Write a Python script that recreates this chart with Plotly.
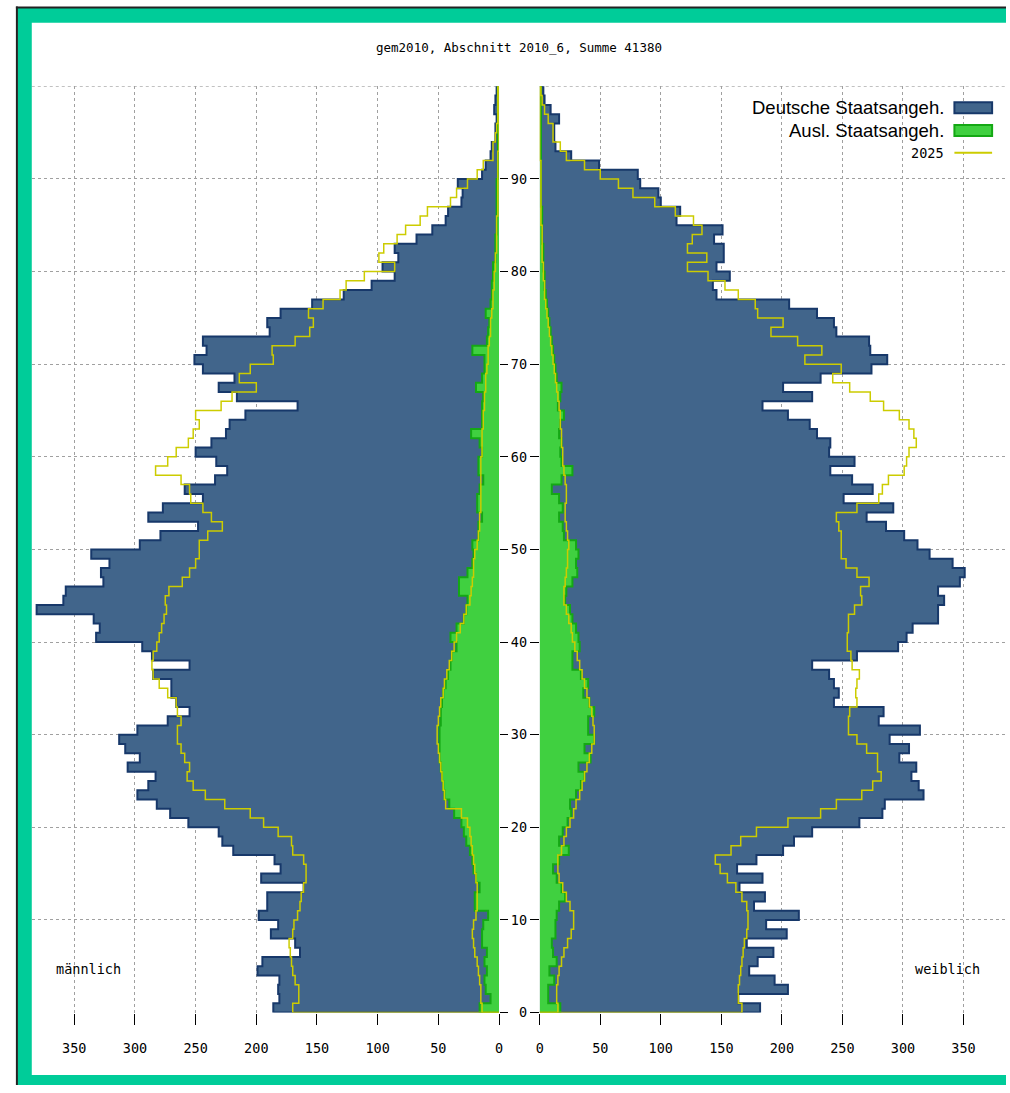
import plotly.graph_objects as go

# Altersjahre 0..99 (je ein Band von a bis a+1)
ALTER = list(range(100))

# Männer: Gesamt (Deutsche + Ausländer), davon Ausländer, Prognose 2025 gesamt / Ausländer
m_gesamt = [186, 181, 182, 181, 199, 195, 164, 168, 188, 182,
            198, 191, 191, 161, 196, 180, 185, 219, 228, 231,
            256, 271, 282, 298, 289, 283, 306, 296, 308, 313,
            298, 273, 255, 266, 270, 270, 285, 255, 286, 294,
            332, 329, 334, 381, 359, 357, 326, 328, 321, 336,
            296, 279, 248, 289, 277, 244, 259, 234, 224, 233,
            250, 237, 225, 222, 209, 166, 216, 231, 218, 244,
            251, 241, 244, 189, 191, 180, 154, 128, 105, 86,
            96, 83, 86, 68, 55, 44, 42, 31, 30, 34,
            14, 11, 7, 6, 3, 3, 2, 4, 3, 2]
m_ausl = [16, 7, 11, 12, 10, 12, 10, 14, 14, 13,
          9, 20, 20, 16, 19, 21, 22, 24, 27, 29,
          31, 37, 41, 45, 46, 47, 48, 49, 49, 49,
          49, 48, 48, 47, 46, 44, 42, 40, 39, 35,
          40, 35, 29, 27, 26, 33, 33, 26, 22, 21,
          22, 17, 17, 14, 18, 18, 16, 13, 17, 17,
          14, 16, 23, 14, 14, 14, 13, 19, 14, 12,
          12, 22, 10, 9, 8, 11, 7, 6, 6, 5,
          5, 3, 3, 3, 2, 2, 2, 2, 2, 2,
          1, 1, 1, 1, 1, 1, 1, 1, 1, 1]
m_2025 = [170, 165, 165, 168, 170, 171, 172, 173, 170, 169,
          166, 164, 163, 161, 159, 159, 161, 170, 171, 182,
          194, 205, 226, 242, 252, 257, 255, 259, 262, 265,
          265, 262, 265, 266, 273, 280, 285, 286, 285, 282,
          280, 278, 276, 274, 275, 272, 261, 255, 250, 247,
          247, 240, 228, 237, 244, 254, 255, 262, 283, 273,
          266, 256, 252, 247, 250, 229, 220, 200, 214, 205,
          186, 187, 168, 156, 153, 157, 145, 131, 126, 111,
          86, 99, 95, 84, 77, 65, 59, 40, 35, 26,
          18, 13, 5, 5, 3, 2, 1, 1, 1, 1]
m_2025_ausl = [14, 15, 15, 16, 17, 18, 20, 21, 22, 21,
               19, 18, 18, 18, 19, 20, 21, 22, 23, 24,
               26, 31, 44, 45, 46, 47, 48, 49, 50, 51,
               51, 50, 49, 48, 46, 45, 43, 41, 39, 37,
               35, 32, 29, 27, 24, 23, 22, 21, 21, 20,
               18, 17, 16, 16, 15, 15, 15, 15, 15, 15,
               14, 14, 14, 13, 13, 12, 12, 11, 11, 10,
               9, 9, 8, 7, 7, 6, 5, 5, 4, 4,
               3, 3, 2, 2, 2, 2, 1, 1, 1, 1,
               1, 1, 1, 0, 0, 0, 0, 0, 0, 0]

# Frauen
w_gesamt = [182, 164, 205, 194, 173, 180, 193, 171, 204, 187,
            214, 177, 186, 165, 184, 163, 179, 201, 210, 225,
            264, 283, 285, 317, 313, 307, 311, 297, 305, 289,
            314, 280, 284, 243, 247, 243, 239, 225, 262, 296,
            303, 308, 329, 329, 334, 329, 347, 351, 341, 322,
            312, 301, 286, 270, 292, 251, 275, 258, 240, 260,
            239, 240, 229, 223, 205, 184, 225, 201, 232, 274,
            287, 273, 272, 245, 243, 229, 206, 146, 143, 157,
            146, 152, 152, 144, 151, 113, 116, 100, 98, 83,
            81, 49, 26, 13, 12, 12, 16, 9, 4, 3]
w_ausl = [17, 7, 7, 12, 8, 14, 11, 10, 13, 13,
          14, 16, 21, 18, 14, 11, 16, 24, 16, 19,
          23, 26, 25, 30, 34, 37, 32, 42, 37, 45,
          40, 40, 45, 41, 36, 40, 34, 27, 27, 33,
          32, 30, 27, 25, 21, 22, 27, 31, 30, 32,
          30, 20, 19, 16, 19, 16, 10, 18, 27, 18,
          17, 18, 16, 17, 20, 15, 17, 18, 14, 13,
          12, 11, 10, 9, 8, 7, 6, 5, 4, 4,
          3, 3, 3, 2, 2, 2, 2, 1, 1, 1,
          1, 1, 1, 1, 1, 1, 1, 1, 1, 1]
w_2025 = [167, 164, 164, 165, 166, 167, 168, 169, 171, 172,
          172, 171, 167, 162, 155, 149, 145, 158, 166, 179,
          205, 232, 245, 266, 275, 282, 279, 279, 270, 262,
          255, 255, 256, 262, 261, 262, 264, 258, 257, 254,
          254, 255, 255, 260, 266, 265, 272, 262, 253, 249,
          249, 249, 247, 245, 262, 280, 283, 288, 301, 303,
          305, 311, 309, 305, 297, 284, 273, 256, 242, 249,
          219, 233, 213, 191, 201, 180, 178, 164, 153, 139,
          122, 138, 122, 126, 134, 127, 112, 95, 77, 65,
          50, 37, 22, 17, 11, 11, 7, 4, 2, 1]
w_2025_ausl = [15, 14, 14, 15, 16, 18, 20, 23, 26, 28,
               28, 25, 22, 19, 16, 15, 15, 18, 20, 22,
               25, 28, 30, 33, 35, 37, 39, 41, 43, 45,
               45, 44, 43, 41, 39, 37, 35, 33, 31, 29,
               27, 26, 24, 22, 20, 20, 21, 22, 23, 23,
               24, 23, 22, 21, 21, 22, 22, 21, 20, 19,
               19, 18, 18, 17, 17, 16, 15, 14, 13, 12,
               11, 10, 9, 8, 7, 6, 5, 4, 4, 3,
               3, 2, 2, 2, 2, 1, 1, 1, 1, 1,
               1, 1, 0, 0, 0, 0, 0, 0, 0, 0]

X_TICKS = [0, 50, 100, 150, 200, 250, 300, 350]
Y_TICKS = [0, 10, 20, 30, 40, 50, 60, 70, 80, 90]
TITEL = "gem2010, Abschnitt 2010_6, Summe 41380"
LEGENDE = ["Deutsche Staatsangeh.", "Ausl. Staatsangeh.", "2025"]

# Farben
BLAU = "#41658b"
BLAU_RAND = "#17386a"
GRUEN = "#40d040"
GRUEN_RAND = "#14a814"
GELB = "#cccc00"
RAHMEN = "#00cc99"
GITTER = "#a0a0a0"

W, H = 1010, 1093
MONO = "DejaVu Sans Mono, Liberation Mono, monospace"
ARIAL = "Liberation Sans, Arial, sans-serif"
GR = 12.5    # Schriftgröße Titel
GR_T = 13.5  # Schriftgröße Achsenbeschriftung


def fx(px):
    return px / W


def fy(py):
    return 1 - py / H


def stufen(werte):
    """Treppenkontur: vom Nullpunkt über alle Altersjahre zurück auf 0."""
    x = [0] + list(werte) + [0]
    y = [0] + ALTER + [len(werte)]
    return x, y


def flaeche(werte, fill, rand, xa, ya):
    x, y = stufen(werte)
    return go.Scatter(
        x=x, y=y, xaxis=xa, yaxis=ya,
        mode="lines", line=dict(shape="vh", color=rand, width=2),
        fill="toself", fillcolor=fill,
        hoverinfo="skip", showlegend=False,
    )


def linie(werte, xa, ya):
    x, y = stufen(werte)
    return go.Scatter(
        x=x, y=y, xaxis=xa, yaxis=ya,
        mode="lines", line=dict(shape="vh", color=GELB, width=1.5),
        hoverinfo="skip", showlegend=False,
    )


def text(x, y, s, font, xanchor="center"):
    fig.add_annotation(x=fx(x), y=fy(y), xref="paper", yref="paper", text=s,
                       xanchor=xanchor, yanchor="middle", showarrow=False, font=font)


fig = go.Figure()
for gesamt, ausl, prog, prog_ausl, xa, ya in [
    (m_gesamt, m_ausl, m_2025, m_2025_ausl, "x", "y"),
    (w_gesamt, w_ausl, w_2025, w_2025_ausl, "x2", "y2"),
]:
    fig.add_trace(flaeche(gesamt, BLAU, BLAU_RAND, xa, ya))
    fig.add_trace(flaeche(ausl, GRUEN, GRUEN_RAND, xa, ya))
    fig.add_trace(linie(prog, xa, ya))
    fig.add_trace(linie(prog_ausl, xa, ya))

achse_x = dict(
    tickvals=X_TICKS, ticks="outside", ticklen=11, tickcolor="black",
    tickfont=dict(family=MONO, size=GR_T, color="black"),
    ticklabelstandoff=12,
    showgrid=True, gridcolor=GITTER, griddash="dot", gridwidth=1,
    zeroline=False, showline=False, fixedrange=True,
)
achse_y = dict(
    range=[0, 100], tickvals=Y_TICKS, ticks="outside", ticklen=9, tickcolor="black",
    tickfont=dict(family=MONO, size=GR_T, color="black"),
    showgrid=True, gridcolor=GITTER, griddash="dot", gridwidth=1,
    zeroline=False, showline=False, fixedrange=True,
    domain=[fy(1020), fy(87)],
)

fig.update_layout(
    width=W, height=H, autosize=False,
    margin=dict(l=0, r=0, t=0, b=0),
    paper_bgcolor="white", plot_bgcolor="white",
    showlegend=False,
    xaxis=dict(achse_x, domain=[fx(28), fx(499)], range=[385, 0], anchor="y"),
    yaxis=dict(achse_y, anchor="x", side="right", showticklabels=False, ticklen=8),
    xaxis2=dict(achse_x, domain=[fx(540), 1.0], range=[0, 385.1], anchor="y2"),
    yaxis2=dict(achse_y, anchor="x2", side="left"),
)

# Gitterlinie bei 100
for xr, yr in [("x domain", "y"), ("x2 domain", "y2")]:
    fig.add_shape(type="line", xref=xr, yref=yr, x0=0, x1=1, y0=100, y1=100,
                  line=dict(color=GITTER, width=1, dash="dot"), layer="below")

# Titel und Beschriftungen
mono = dict(family=MONO, size=GR, color="black")
mono_t = dict(family=MONO, size=GR_T, color="black")
text(519, 48, TITEL, mono)
text(85, 976, "männlich", mono_t)
text(951, 976, "weiblich", mono_t)

# Legende (rechtsbündig, Symbol rechts vom Text)
zeilen = [108.5, 131.5, 154]
for i, (txt, zy) in enumerate(zip(LEGENDE, zeilen)):
    font = dict(family=ARIAL, size=18.5, color="black") if i < 2 else mono_t
    text(950, zy, txt, font, xanchor="right")
fig.add_shape(type="rect", xref="paper", yref="paper", x0=fx(958), x1=fx(996),
              y0=fy(103), y1=fy(114), fillcolor=BLAU, line=dict(color=BLAU_RAND, width=2))
fig.add_shape(type="rect", xref="paper", yref="paper", x0=fx(958), x1=fx(996),
              y0=fy(126), y1=fy(137), fillcolor=GRUEN, line=dict(color=GRUEN_RAND, width=2))
fig.add_shape(type="line", xref="paper", yref="paper", x0=fx(958), x1=fx(996),
              y0=fy(154), y1=fy(154), line=dict(color=GELB, width=2))

# Rahmen
fig.add_shape(type="rect", xref="paper", yref="paper", x0=fx(13.5), x1=fx(28),
              y0=0, y1=fy(8), fillcolor=RAHMEN, line_width=0)
fig.add_shape(type="rect", xref="paper", yref="paper", x0=fx(13.5), x1=1,
              y0=fy(23), y1=fy(8), fillcolor=RAHMEN, line_width=0)
fig.add_shape(type="rect", xref="paper", yref="paper", x0=fx(13.5), x1=1,
              y0=0, y1=fy(1083), fillcolor=RAHMEN, line_width=0)
fig.add_shape(type="line", xref="paper", yref="paper", x0=fx(13), x1=fx(13),
              y0=0, y1=fy(6.5), line=dict(color="#222222", width=2))
fig.add_shape(type="line", xref="paper", yref="paper", x0=fx(12), x1=1,
              y0=fy(7.5), y1=fy(7.5), line=dict(color="#222222", width=2))

# Seitenrand des Browsers entfernen, damit die Grafik genau im Fenster liegt
fig.write_html("out.html", config={"displayModeBar": False},
               post_script="document.body.style.margin='0px';")
